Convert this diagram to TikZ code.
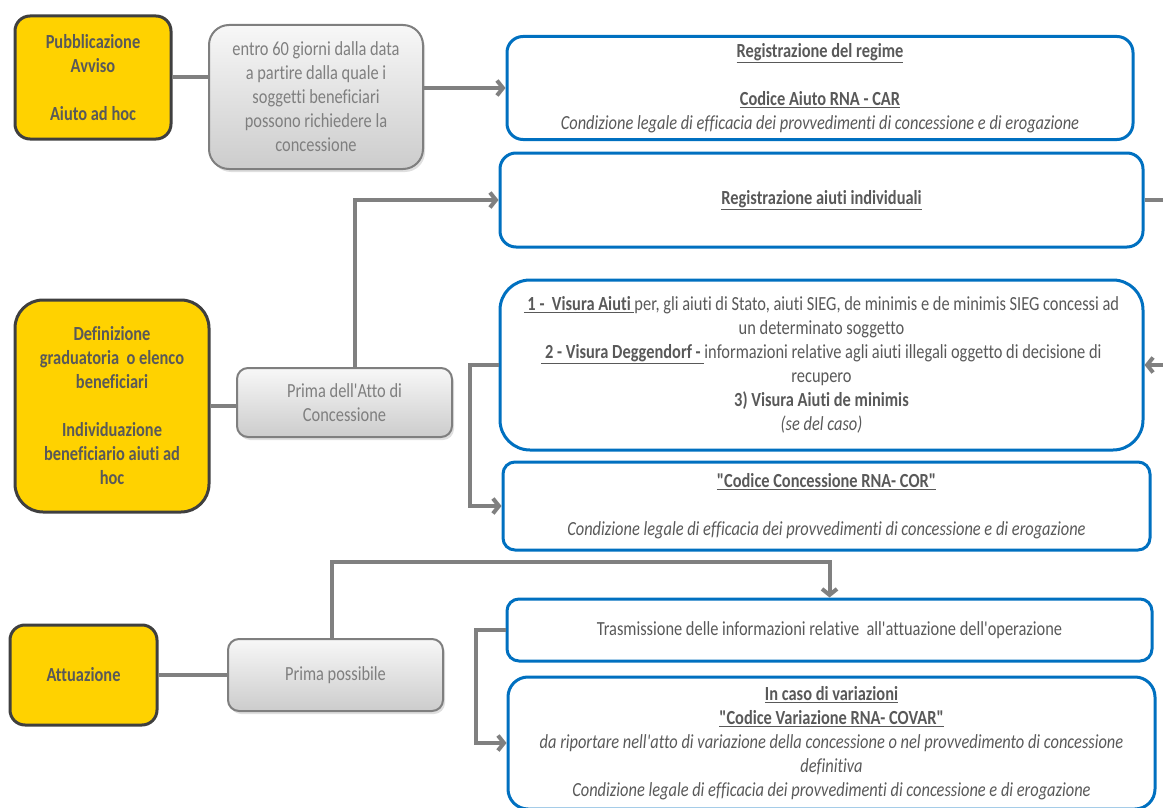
\documentclass[tikz,border=0pt]{standalone}
\usepackage{fontspec}
\setmainfont{Carlito}[FakeStretch=0.82, Ligatures={TeXOff,NoCommon}]
\usetikzlibrary{arrows.meta,shadows}
\definecolor{gold}{HTML}{FFD200}
\definecolor{darkrim}{HTML}{3F3F3F}
\definecolor{rnablue}{HTML}{0070C0}
\definecolor{textgray}{HTML}{595959}
\definecolor{softgray}{HTML}{7F7F7F}
\definecolor{linegray}{HTML}{808080}

\begin{document}
\begin{tikzpicture}[x=1pt,y=-1pt,
  txt/.style={font=\fontsize{20}{24}\selectfont, align=center, inner sep=0pt},
  phase/.style={txt, rectangle, rounded corners=15pt, draw=darkrim, line width=3pt,
    fill=gold, text=textgray, font=\fontsize{20}{24}\selectfont\bfseries},
  timing/.style={txt, rectangle, rounded corners=14pt, draw=softgray, line width=2pt,
    top color=gray!6, bottom color=gray!40, text=softgray,
    drop shadow={opacity=0.25, shadow xshift=2pt, shadow yshift=-3pt}},
  rnabox/.style={txt, rectangle, rounded corners=16pt, draw=rnablue, line width=3pt,
    fill=white, text=textgray},
  conn/.style={draw=linegray, line width=4pt},
  arr/.style={conn, -{Straight Barb[length=6pt,width=15pt]}}]
\useasboundingbox (0,0) rectangle (1163,808);

% phases (yellow)
\node[phase, minimum width=156, minimum height=123] (pub) at (93,77.5)
  {Pubblicazione\\Avviso\\[24pt]Aiuto ad hoc};
\node[phase, minimum width=194, minimum height=212, rounded corners=28pt] (def) at (112,406)
  {Definizione\\graduatoria\ \ o elenco\\beneficiari\\[24pt]Individuazione\\beneficiario aiuti ad\\hoc};
\node[phase, minimum width=147, minimum height=100] (att) at (83.5,675) {Attuazione};

% timing (grey)
\node[timing, minimum width=214, minimum height=144, rounded corners=20pt] (entro) at (316,97)
  {entro 60 giorni dalla data\\a partire dalla quale i\\soggetti beneficiari\\possono richiedere la\\concessione};
\node[timing, minimum width=215, minimum height=69, rounded corners=11pt] (atto) at (344.5,402.5)
  {Prima dell'Atto di\\Concessione};
\node[timing, minimum width=215, minimum height=72, rounded corners=11pt] (poss) at (335.5,675)
  {Prima possibile};

% RNA steps (blue)
\node[rnabox, minimum width=626, minimum height=103] (regime) at (820,88)
  {\textbf{\underline{Registrazione del regime}}\\[24pt]
   \textbf{\underline{Codice Aiuto RNA - CAR}}\\
   \textit{Condizione legale di efficacia dei provvedimenti di concessione e di erogazione}};
\node[rnabox, minimum width=643, minimum height=94] (ind) at (821.5,200)
  {\textbf{\underline{Registrazione aiuti individuali}}};
\node[rnabox, minimum width=643, minimum height=170, rounded corners=30pt] (visura) at (821.5,365)
  {\textbf{\underline{\ 1 -\ \ Visura Aiuti\ }}per, gli aiuti di Stato, aiuti SIEG, de minimis e de minimis SIEG concessi ad\\
   un determinato soggetto\\
   \textbf{\underline{\ 2 - Visura Deggendorf -\ }}informazioni relative agli aiuti illegali oggetto di decisione di\\
   recupero\\
   \textbf{3) Visura Aiuti de minimis}\\
   \textit{(se del caso)}};
\node[rnabox, minimum width=647, minimum height=88, rounded corners=12pt] (cor) at (826.5,506)
  {\textbf{\underline{"Codice Concessione RNA- COR"}}\\[24pt]
   \textit{Condizione legale di efficacia dei provvedimenti di concessione e di erogazione}};
\node[rnabox, minimum width=645, minimum height=62, rounded corners=12pt] (trasm) at (829.5,630)
  {Trasmissione delle informazioni relative\ \ all'attuazione dell'operazione};
\node[rnabox, minimum width=647, minimum height=132, rounded corners=20pt] (var) at (831.5,743)
  {\textbf{\underline{In caso di variazioni}}\\
   \textbf{\underline{"Codice Variazione RNA- COVAR"}}\\
   \textit{da riportare nell'atto di variazione della concessione o nel provvedimento di concessione}\\
   \textit{definitiva}\\
   \textit{Condizione legale di efficacia dei provvedimenti di concessione e di erogazione}};

% connectors
\draw[conn] (pub.east) -- (pub.east -| entro.west);
\draw[arr] (entro.east |- regime.west) -- (regime.west);
\draw[conn] (def.east) -- (def.east -| atto.west);
\draw[arr] ([xshift=10pt]atto.north) |- (ind.west);
\draw[arr] (visura.west) -- ++(-29,0) |- (cor.west);
\draw[arr] (ind.east) -- ++(40,0) |- (visura.east);
\draw[conn] (att.east) -- (poss.west);
\coordinate (bend) at ([xshift=-3.5pt]poss.north);
\draw[arr] (bend) -- ++(0,-76) -| (trasm.north);
\draw[arr] (trasm.west) -- ++(-30,0) |- (var.west);
%\draw[conn] (regime.south) -- (ind.north);
\end{tikzpicture}
\end{document}
